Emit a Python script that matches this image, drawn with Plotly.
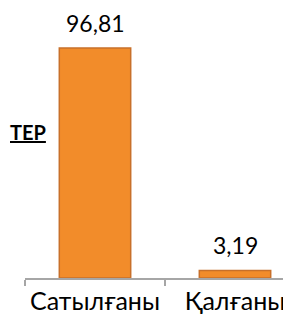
import plotly.graph_objects as go

categories = ["Сатылғаны", "Қалғаны"]
values = [96.81, 3.19]
value_labels = [f"{v:.2f}".replace(".", ",") for v in values]
title_fragment = "ТЕР"

FONT = "Lato"

fig = go.Figure()
fig.add_trace(go.Bar(
    x=categories,
    y=values,
    width=0.51,
    marker=dict(color="#F28C2A", line=dict(color="#C8702A", width=1.5)),
    hoverinfo="skip",
))

for c, v, t in zip(categories, values, value_labels):
    fig.add_annotation(
        x=c, y=v, text=t, showarrow=False,
        xanchor="center", yanchor="bottom", yshift=9,
        font=dict(family=FONT, size=23, color="#000000"),
    )

fig.add_annotation(
    xref="paper", yref="paper", x=0.085, y=0.54,
    text=f"<b><u>{title_fragment}</u></b>", showarrow=False,
    xanchor="right", yanchor="middle",
    font=dict(family=FONT, size=20, color="#000000"),
)

fig.update_layout(
    width=291, height=328,
    margin=dict(l=17, r=8, t=0, b=58),
    paper_bgcolor="white", plot_bgcolor="white",
    showlegend=False,
    font=dict(family=FONT, size=24, color="#000000"),
)
fig.update_xaxes(
    type="category",
    range=[-0.5, 1.4],
    automargin=False,
    showline=True, linecolor="#A6A6A6", linewidth=1.5,
    ticks="outside", tickson="boundaries", ticklen=6, tickcolor="#A6A6A6", tickwidth=1.5,
    tickfont=dict(family=FONT, size=25, color="#000000"),
    showgrid=False, zeroline=False,
)
fig.update_yaxes(
    range=[0, 113.6],
    automargin=False,
    visible=False, showgrid=False, zeroline=False,
)

fig.write_html("out.html")
